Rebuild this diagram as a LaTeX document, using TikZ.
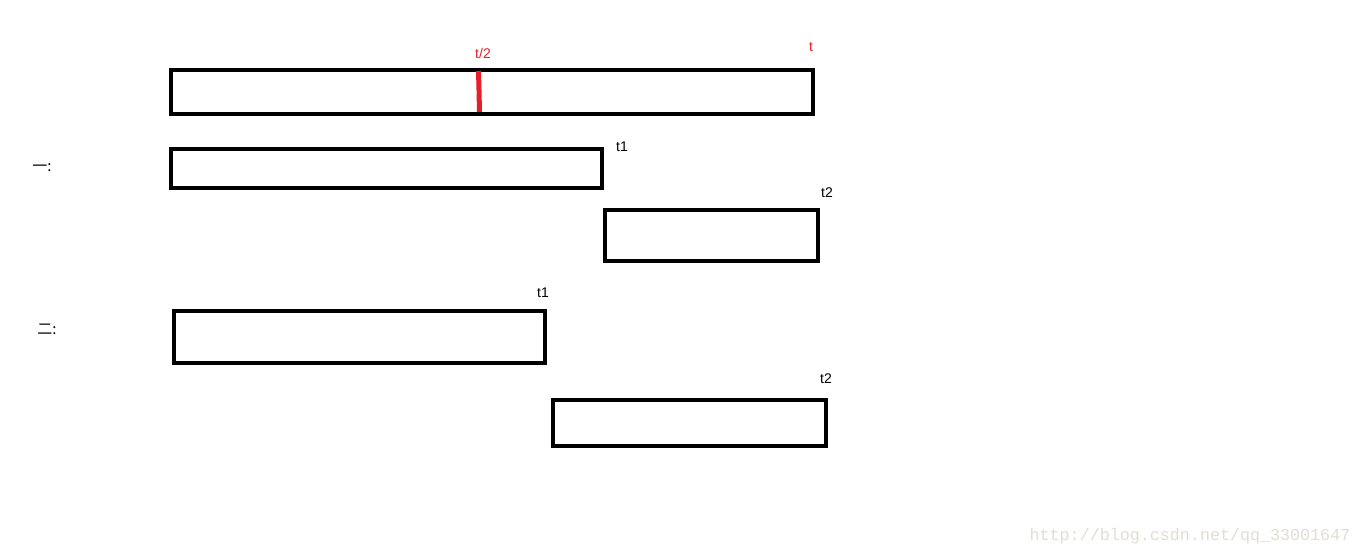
\documentclass[tikz,border=0pt]{standalone}
\usepackage{fontspec}
\setmainfont{Liberation Sans}
\newfontfamily\cjk{Noto Sans CJK SC}
\newfontfamily\wm{Liberation Mono}
\begin{document}
\begin{tikzpicture}[x=1pt,y=-1pt,
  bar/.style={draw=black,line width=4pt},
  lbl/.style={inner sep=0pt,font=\fontsize{14}{14}\selectfont},
  cjklbl/.style={inner sep=0pt,font=\cjk\fontsize{15}{15}\selectfont},
  rlbl/.style={lbl,text={rgb,255:red,230;green,30;blue,40}}]
\useasboundingbox (0,0) rectangle (1360,556);
\path[fill=white] (0,0) rectangle (1360,556);
\draw[bar] (171,70) rectangle (813,114);
\coordinate (ht) at (478.5,71);
\coordinate (hb) at (479.5,112);
\draw[line width=5pt,draw={rgb,255:red,230;green,30;blue,40}] (ht) -- (479,90) -- (hb);
\draw[bar] (171,149) rectangle (602,188);
\draw[bar] (605,210) rectangle (818,261);
\draw[bar] (174,311) rectangle (545,363);
\draw[bar] (553,400) rectangle (826,446);
\node[rlbl] (th) at (483,53) {t/2};
\node[rlbl] (tt) at (811,47) {t};
\node[lbl] (a1) at (622,147) {t1};
\node[lbl] (a2) at (827,193) {t2};
\node[lbl] (b1) at (543,293) {t1};
\node[lbl] (b2) at (826,379) {t2};
\node[cjklbl] (one) at (42,168) {一:};
\node[cjklbl] (two) at (47,329) {二:};
\node[inner sep=0pt,text={rgb,255:red,225;green,222;blue,215},font=\wm\fontsize{16.7}{17}\selectfont] (wm) at (1190,536) {http://blog.csdn.net/qq\_33001647};
\end{tikzpicture}
\end{document}
